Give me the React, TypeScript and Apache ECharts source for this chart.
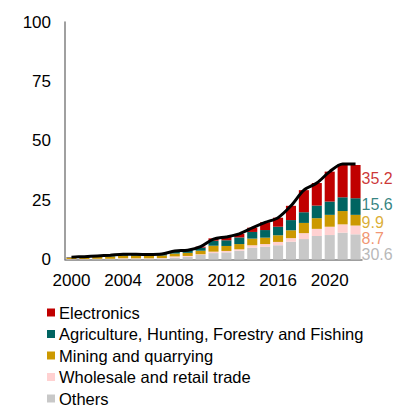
import React, { useEffect, useRef } from "react";
import * as echarts from "echarts";

const years = ["2000","2001","2002","2003","2004","2005","2006","2007","2008","2009","2010","2011","2012","2013","2014","2015","2016","2017","2018","2019","2020","2021","2022"];

const others =      [0.1,0.1,0.2,0.2,0.3,0.3,0.3,0.4,0.8,1.1,1.9,2.7,3.0,3.7,5.0,5.4,6.0,7.5,8.6,9.9,10.3,11.3,10.6];
const wholesale =   [0.1,0.1,0.1,0.1,0.2,0.2,0.2,0.2,0.5,0.4,0.3,0.6,0.6,0.6,1.0,1.1,1.4,1.5,2.5,3.0,3.5,3.5,3.7];
const mining =      [0.5,0.6,0.8,1.0,1.1,1.1,1.0,1.1,1.2,1.3,1.5,2.5,2.1,2.2,2.8,2.7,2.8,3.3,4.3,4.5,5.0,5.6,4.5];
const agriculture = [0.2,0.2,0.2,0.3,0.4,0.4,0.4,0.5,1.0,1.2,1.3,2.1,2.4,2.8,2.8,3.2,3.6,4.3,4.5,5.3,5.6,5.8,7.0];
const electronics = [0.1,0.1,0.1,0.1,0.1,0.1,0.1,0.1,0.1,0.1,0.4,1.0,1.4,1.5,1.8,3.3,3.8,6.0,9.3,9.5,12.6,13.8,14.0];
const total =       [1.0,1.2,1.5,1.8,2.2,2.2,2.1,2.3,3.6,3.9,5.4,8.6,9.5,10.8,13.3,15.6,17.6,22.6,29.2,32.2,37.0,40.2,40.2];

const shareLabels = ["35.2","15.6","9.9","8.7","30.6"];
const shareLabelY = [33.9, 23.0, 15.7, 9.0, 2.0];
const names = ["Electronics","Agriculture, Hunting, Forestry and Fishing","Mining and quarrying","Wholesale and retail trade","Others"];
const colors = ["#C00000","#006461","#CC9900","#FFD1D1","#C8C8C8"];
const labelColors = ["#C00000","#006461","#D39A00","#EE7A4C","#A6A6A6"];

const FONT = "'Liberation Sans', Arial, sans-serif";

export default function App() {
  const ref = useRef<HTMLDivElement>(null);
  useEffect(() => {
    if (!ref.current) return;
    const chart = echarts.init(ref.current, undefined, { renderer: "svg" });
    const stackData = [others, wholesale, mining, agriculture, electronics];
    const stackNames = [names[4], names[3], names[2], names[1], names[0]];
    const stackColors = [colors[4], colors[3], colors[2], colors[1], colors[0]];
    const barSeries = stackData.map((d, i) => ({
      name: stackNames[i],
      type: "bar",
      stack: "total",
      data: d,
      barCategoryGap: "22%",
      itemStyle: { color: stackColors[i] },
      emphasis: { disabled: true },
    }));
    chart.setOption({
      animation: false,
      grid: { left: 65, right: 45, top: 22, bottom: 146.5, containLabel: false },
      legend: {
        orient: "vertical",
        left: 47,
        top: 304,
        height: 130,
        padding: 0,
        icon: "rect",
        itemWidth: 8,
        itemHeight: 8,
        itemGap: 4.5,
        data: names,
        selectedMode: false,
        textStyle: { fontFamily: FONT, fontSize: 16.5, color: "#000", padding: [0, 0, 0, -1] },
      },
      xAxis: {
        type: "category",
        data: years,
        axisLine: { lineStyle: { color: "#808080", width: 1.5 } },
        axisTick: { show: false },
        axisLabel: { interval: 3, color: "#000", fontFamily: FONT, fontSize: 17, margin: 12 },
      },
      yAxis: {
        type: "value",
        min: 0,
        max: 100,
        interval: 25,
        splitLine: { show: false },
        axisLine: { show: true, lineStyle: { color: "#808080", width: 1.5 } },
        axisTick: { show: false },
        axisLabel: { color: "#000", fontFamily: FONT, fontSize: 17, margin: 14 },
      },
      series: [
        ...barSeries,
        {
          name: "Total",
          type: "line",
          data: total,
          smooth: 0.3,
          symbol: "none",
          lineStyle: { color: "#000", width: 3 },
          z: 5,
        },
        {
          name: "labels",
          type: "scatter",
          symbolSize: 0,
          silent: true,
          data: shareLabelY.map((v, i) => ({
            value: [years[years.length - 1], v],
            label: {
              show: true,
              position: "right",
              distance: 6,
              formatter: shareLabels[i],
              color: labelColors[i],
              fontFamily: FONT,
              fontSize: 16,
              lineHeight: 13,
            },
          })),
          z: 6,
        },
      ],
    });
    return () => chart.dispose();
  }, []);
  return <div ref={ref} style={{ width: 407, height: 406, position: "absolute", left: 0, top: 0 }} />;
}
